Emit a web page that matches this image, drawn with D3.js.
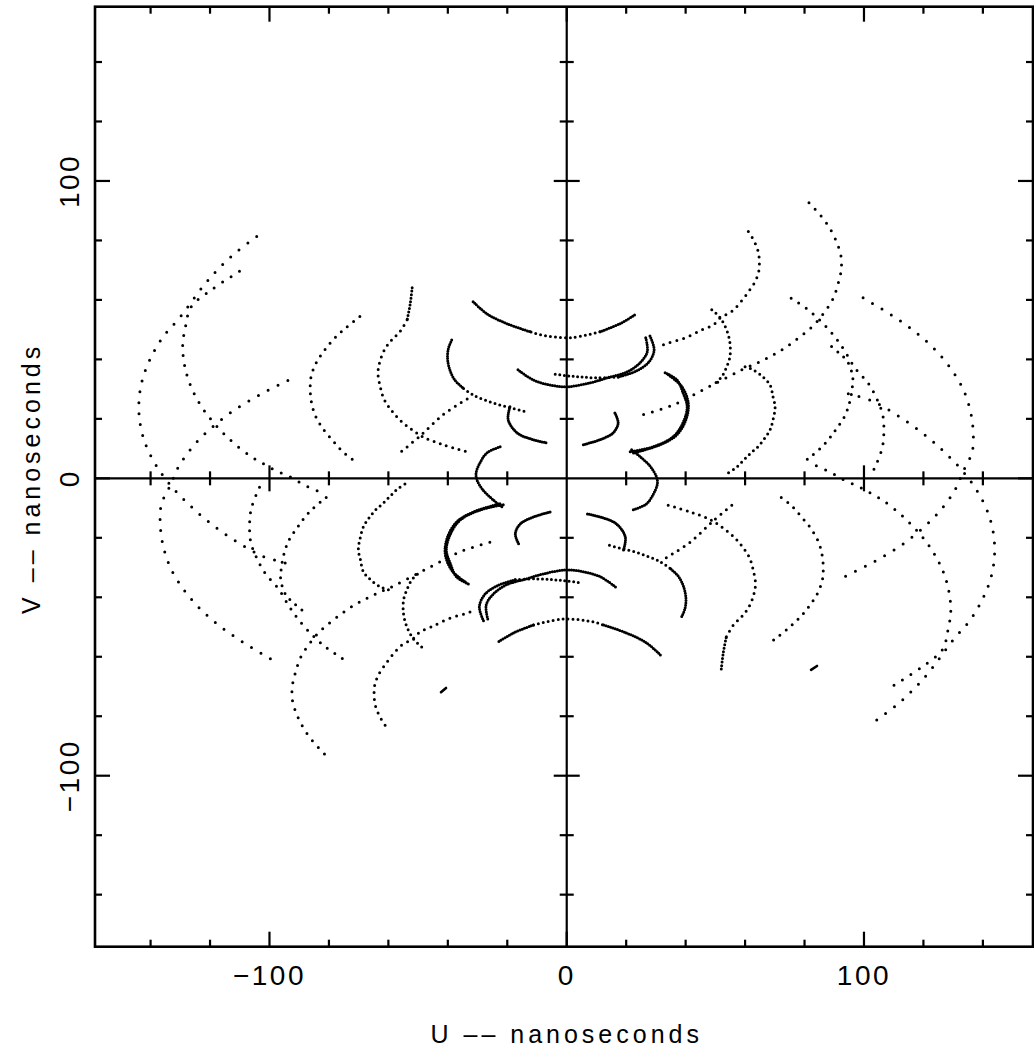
<!DOCTYPE html>
<html><head><meta charset="utf-8">
<script src="https://cdn.jsdelivr.net/npm/d3@7"></script>
<style>body{margin:0;background:#fff}svg{display:block}</style>
</head><body>
<svg id="c" width="1034" height="1050"></svg>
<script>
// ---- axis data ----
const axisTicks = [-140,-120,-100,-80,-60,-40,-20,0,20,40,60,80,100,120,140];
const majorTicks = [-100,0,100];
const labelValues = [-100,0,100];
const labelTexts = ["\u2212100","0","100"];
const xTitle = "U  \u2013\u2013  nanoseconds";
const yTitle = "V  \u2013\u2013  nanoseconds";

// ---- UV tracks (u,v in nanoseconds); each is also drawn with its conjugate (-u,-v) ----
const trackD = [[99.7,60.7],[109.1,55.0],[117.2,49.3],[124.0,43.2],[129.3,36.8],[133.3,30.1],[135.7,23.0],[136.7,16.3],[136.4,8.9],[133.3,2.2],[130.6,-3.9],[125.6,-10.9],[119.5,-17.0],[111.8,-23.0],[102.7,-28.4],[92.6,-33.5]];
const trackT1 = [[-104.3,81.3],[-111.6,75.7],[-117.7,69.9],[-122.8,64.0],[-130.1,54.2],[-135.7,47.7],[-139.9,40.6],[-142.7,33.4],[-143.9,26.1],[-143.6,18.9],[-141.7,11.5],[-138.1,4.3],[-133.4,-2.2],[-127.0,-8.9],[-119.6,-15.3],[-110.9,-21.4],[-102.5,-26.1],[-93.4,-28.8]];
const trackT2 = [[-110.1,69.6],[-119.1,63.7],[-126.4,57.6],[-128.2,51.3],[-129.2,44.7],[-128.6,38.2],[-126.8,31.8],[-123.6,25.3],[-119.2,19.2],[-113.5,13.2],[-106.5,7.5],[-102.4,5.1],[-97.9,2.6],[-93.1,0.5],[-88.4,-2.2],[-83.3,-4.5]];
const trackA = [[81.5,92.7],[85.5,88.3],[88.6,83.9],[90.9,79.2],[92.3,74.5],[92.3,69.8],[91.2,65.1],[89.6,60.4],[86.6,55.7],[82.9,51.3],[78.1,47.3],[72.4,43.2],[66.4,39.9],[58.3,36.2],[46.5,30.1],[35.1,24.4],[24.0,21.0]];
const trackB = [[61.1,83.0],[63.1,79.7],[64.4,76.3],[64.8,72.9],[64.6,69.6],[63.4,66.2],[61.2,62.8],[58.7,59.5],[55.5,56.1],[51.6,53.9],[49.3,51.6],[45.4,49.9],[39.8,47.2],[34.2,45.5],[30.8,44.3]];
const trackC = [[89.1,44.3],[91.9,41.9],[94.5,39.2],[96.2,34.2],[96.1,30.9],[95.3,26.1],[93.6,21.1],[90.6,16.5],[87.0,11.8],[82.1,7.3],[79.6,5.5]];
const trackE = [[75.5,60.6],[81.3,56.6],[85.9,52.4],[90.1,47.7],[93.3,43.2],[97.0,37.1],[101.4,32.0],[104.3,26.8],[106.3,21.4],[106.7,16.1],[106.2,10.5],[104.3,5.1],[103.1,2.5]];
const trackH = [[48.8,56.7],[51.6,54.0],[53.8,49.9],[54.9,45.6],[54.9,40.9],[53.8,37.5],[52.1,34.1],[48.9,31.1]];
const trackJ = [[60.0,37.5],[62.7,36.5],[66.0,34.1],[68.4,31.4],[69.4,27.4],[70.1,24.0],[69.4,19.7],[68.4,16.3],[66.7,13.6],[64.3,10.6],[62.0,8.6],[59.6,6.2],[57.3,3.9],[54.3,1.8]];
const trackT4 = [[-69.6,54.4],[-74.2,50.7],[-78.4,46.8],[-81.7,42.8],[-84.4,38.6],[-86.0,34.2],[-86.3,30.1],[-85.9,25.7],[-84.7,21.4],[-82.3,17.1],[-79.0,13.0],[-75.3,8.9],[-70.5,5.2]];
const trackT5a = [[-52.0,64.1],[-52.7,58.4],[-53.7,53.3]];
const trackT5 = [[-53.7,53.3],[-56.1,49.3],[-58.8,46.6],[-61.1,43.6],[-62.8,39.5],[-63.5,35.5],[-62.8,31.1],[-61.5,26.7],[-59.1,23.0],[-55.8,19.3],[-52.0,16.3],[-48.3,13.9],[-41.6,11.3],[-33.5,8.9]];
const trackL1 = [[-33.5,26.7],[-41.6,21.4],[-49.3,14.3],[-56.1,8.6]];
const trackF1 = [[-38.7,46.5],[-39.8,43.7],[-40.1,40.3],[-39.3,36.4],[-37.6,33.0],[-34.7,30.2]];
const trackF2 = [[-34.7,30.2],[-31.4,28.0],[-26.9,26.1],[-22.4,24.6],[-17.9,23.5],[-13.9,22.4]];
const trackC1a = [[-31.5,59.4],[-26.8,55.3],[-20.1,52.0],[-12.0,49.2]];
const trackC1b = [[-12.0,49.2],[-9.0,48.3],[1.1,47.3],[11.2,49.3]];
const trackC1c = [[11.2,49.3],[17.9,52.0],[23.0,55.0]];
const trackC2 = [[-16.4,36.5],[-11.3,33.1],[-5.6,31.4],[0.1,30.8],[7.8,32.1],[13.6,33.8],[20.3,35.8],[24.7,38.9],[27.1,42.6],[26.5,47.6]];
const trackC3a = [[28.0,47.9],[29.4,43.2],[27.7,39.2],[23.6,36.2],[17.3,34.1]];
const trackC3b = [[17.3,34.1],[10.5,33.8],[4.5,34.1],[0.1,34.5],[-4.6,35.1]];
const trackC4 = [[-19.1,24.1],[-19.7,19.7],[-16.7,15.3],[-11.3,13.0],[-6.6,11.9]];
const trackC5 = [[16.2,22.0],[17.3,18.6],[15.6,15.3],[11.2,13.0],[5.5,11.3]];
const trackC6 = [[-22.4,10.6],[-26.8,8.6],[-29.2,5.2],[-30.5,1.8],[-30.2,-0.5],[-28.2,-3.9],[-24.8,-7.2],[-21.8,-9.6]];
const trackC7 = [[33.1,35.5],[37.1,33.1],[39.1,28.8],[40.5,24.1],[39.1,18.7],[35.8,14.0],[29.0,10.6],[21.3,8.9]];
const trackC7b = [[34.2,34.8],[38.7,30.9],[40.9,25.3],[40.1,19.7],[37.0,14.6],[31.4,11.3],[22.4,8.5]];

const tracks = [trackD,trackT1,trackT2,trackA,trackB,trackC,trackE,trackH,trackJ,trackT4,trackT5a,trackT5,trackL1,trackF1,trackF2,
  trackC1a,trackC1b,trackC1c,trackC2,trackC3a,trackC3b,trackC4,trackC5,trackC6,trackC7,trackC7b];
// dot spacing in px for each track (style)
const trackGap = [11,11,10,9,7,8,9,5.5,5.5,8,3.5,6.5,7,2.4,5, 2.4,5,2.4,2.4,2.4,4.5,2,2,2.4,2.4,2.4];

// isolated short marks (no conjugate drawn)
const markLeft = [[-42.3,-71.9],[-40.6,-70.5]];
const markRight = [[82.2,-64.4],[84.2,-63.1]];
const marks = [markLeft, markRight];

// ---- drawing ----
const svg = d3.select("#c");
const x = d3.scaleLinear().domain([-158.7,157.2]).range([95,1034]);
const y = d3.scaleLinear().domain([-157.5,158.6]).range([946.7,6.7]);
const fL = x(-158.7), fR = x(157.2)-1, fT = y(158.6), fB = y(-157.5);
const font = "'Liberation Sans', Arial, Helvetica, sans-serif";

const g = svg.append("g");
g.append("rect").attr("x",fL).attr("y",fT).attr("width",fR-fL).attr("height",fB-fT)
  .attr("fill","none").attr("stroke","#000").attr("stroke-width",2.6);
g.append("line").attr("x1",fL).attr("x2",fR).attr("y1",y(0)).attr("y2",y(0)).attr("stroke","#000").attr("stroke-width",2.2);
g.append("line").attr("y1",fT).attr("y2",fB).attr("x1",x(0)).attr("x2",x(0)).attr("stroke","#000").attr("stroke-width",2.2);

const isMajor = t => majorTicks.includes(t);
axisTicks.forEach(t => {
  const L = isMajor(t) ? 15 : 7;
  g.append("line").attr("x1",x(t)).attr("x2",x(t)).attr("y1",fB).attr("y2",fB-L).attr("stroke","#000").attr("stroke-width",2.2);
  g.append("line").attr("x1",x(t)).attr("x2",x(t)).attr("y1",fT).attr("y2",fT+L).attr("stroke","#000").attr("stroke-width",2.2);
  g.append("line").attr("y1",y(t)).attr("y2",y(t)).attr("x1",fL).attr("x2",fL+L).attr("stroke","#000").attr("stroke-width",2.2);
  g.append("line").attr("y1",y(t)).attr("y2",y(t)).attr("x1",fR).attr("x2",fR-L).attr("stroke","#000").attr("stroke-width",2.2);
  if (t !== 0) {
    const C = isMajor(t) ? 13 : 7;
    g.append("line").attr("x1",x(t)).attr("x2",x(t)).attr("y1",y(0)-C).attr("y2",y(0)+C).attr("stroke","#000").attr("stroke-width",2.2);
    g.append("line").attr("y1",y(t)).attr("y2",y(t)).attr("x1",x(0)-C).attr("x2",x(0)+C).attr("stroke","#000").attr("stroke-width",2.2);
  }
});

const line = d3.line().x(d=>x(d[0])).y(d=>y(d[1])).curve(d3.curveCatmullRom.alpha(0.5));
const tg = svg.append("g");
tracks.forEach((tr,i) => {
  const gap = trackGap[i];
  [tr, tr.map(p=>[-p[0],-p[1]])].forEach(pts => {
    tg.append("path").attr("d",line(pts)).attr("fill","none").attr("stroke","#000")
      .attr("stroke-width",3).attr("stroke-linecap","round")
      .attr("stroke-dasharray", `0 ${gap}`);
  });
});
marks.forEach(m => {
  tg.append("path").attr("d",d3.line().x(d=>x(d[0])).y(d=>y(d[1]))(m)).attr("fill","none")
    .attr("stroke","#000").attr("stroke-width",2.6).attr("stroke-linecap","round");
});

labelValues.forEach((v,i) => {
  svg.append("text").attr("x",x(v)).attr("y",985).attr("text-anchor","middle")
    .attr("font-family",font).attr("font-size",28).attr("letter-spacing",2.5).text(labelTexts[i]);
  svg.append("text").attr("transform",`translate(79,${y(v)}) rotate(-90)`).attr("text-anchor","middle")
    .attr("font-family",font).attr("font-size",28).attr("letter-spacing",2.5).text(labelTexts[i]);
});
svg.append("text").attr("x",x(0)).attr("y",1043).attr("text-anchor","middle")
  .attr("font-family",font).attr("font-size",25).attr("letter-spacing",4).text(xTitle);
svg.append("text").attr("transform",`translate(40,${y(0)}) rotate(-90)`).attr("text-anchor","middle")
  .attr("font-family",font).attr("font-size",25).attr("letter-spacing",4).text(yTitle);
</script>
</body></html>
